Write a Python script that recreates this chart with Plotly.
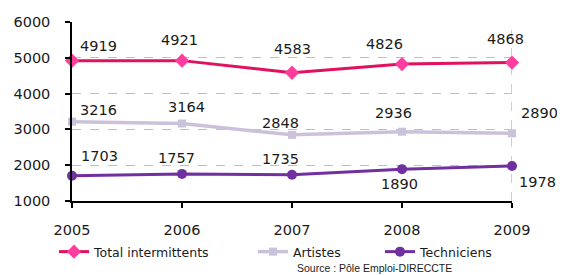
import plotly.graph_objects as go

years = [2005, 2006, 2007, 2008, 2009]
total = [4919, 4921, 4583, 4826, 4868]
artistes = [3216, 3164, 2848, 2936, 2890]
techniciens = [1703, 1757, 1735, 1890, 1978]
series_names = ["Total intermittents", "Artistes", "Techniciens"]
y_ticks = [1000, 2000, 3000, 4000, 5000, 6000]
source_text = "Source : Pôle Emploi-DIRECCTE"

FONT = "DejaVu Sans"
fig = go.Figure()

styles = [
    dict(line=dict(color="#E0115F", width=3),
         marker=dict(symbol="diamond", size=11, color="#FF3D9E")),
    dict(line=dict(color="#CCC1DA", width=3.5),
         marker=dict(symbol="square", size=8, color="#CCC1DA")),
    dict(line=dict(color="#7030A0", width=3),
         marker=dict(symbol="circle", size=10, color="#7030A0")),
]
legend_ids = ["legend", "legend2", "legend3"]
all_values = [total, artistes, techniciens]

for name, vals, st, lg in zip(series_names, all_values, styles, legend_ids):
    fig.add_trace(go.Scatter(x=years, y=vals, mode="lines+markers", name=name,
                             line=st["line"], marker=st["marker"], legend=lg,
                             showlegend=True, cliponaxis=False))

# label offsets (pixels) per series, per point
offsets = [
    [(26, 15), (-3, 21), (0, 24), (-18, 20), (-7, 24)],
    [(26, 12), (4, 17), (-12, 12), (-9, 19), (27, 20)],
    [(27, 20), (-6, 16), (-12, 16), (-3, -15), (25, -16)],
]
for vals, offs in zip(all_values, offsets):
    for x, v, (dx, dy) in zip(years, vals, offs):
        fig.add_annotation(x=x, y=v, text=str(v), showarrow=False,
                           xshift=dx, yshift=dy,
                           font=dict(family=FONT, size=14.5, color="#1a1a1a"))

fig.add_shape(type="line", xref="x", yref="y", x0=2009, x1=2009, y0=1000, y1=6000,
              line=dict(color="#BFBFBF", width=1.5, dash="dash"), layer="below")

fig.add_annotation(xref="paper", yref="paper", x=(295 - 72) / 440, y=-(268 - 201) / 179,
                   xanchor="left", yanchor="middle", showarrow=False, text=source_text,
                   font=dict(family="Liberation Sans", size=10.5, color="#1a1a1a"))

leg_y = -(252 - 201) / 179
leg_common = dict(orientation="h", font=dict(family=FONT, size=12.5, color="#1a1a1a"),
                  bgcolor="rgba(0,0,0,0)", xanchor="left", yanchor="middle",
                  xref="paper", yref="paper", itemwidth=30)
fig.update_layout(
    showlegend=True,
    legend=dict(x=(54 - 72) / 440, y=leg_y, **leg_common),
    legend2=dict(x=(253 - 72) / 440, y=leg_y, **leg_common),
    legend3=dict(x=(380 - 72) / 440, y=leg_y, **leg_common),
)

# page has an 8px body offset; margins compensate so the plot area lands at 72..512 x 22..201
fig.update_layout(
    width=565, height=275,
    margin=dict(l=64, r=61, t=14, b=82, autoexpand=False),
    paper_bgcolor="white", plot_bgcolor="white",
    font=dict(family=FONT, size=14.5, color="#1a1a1a"),
    xaxis=dict(range=[2005, 2009], tickvals=years, ticktext=[str(y) for y in years],
               showgrid=False, showline=True, linecolor="black", linewidth=2,
               ticks="outside", ticklen=5, tickcolor="black", tickwidth=1.5,
               ticklabelstandoff=10, zeroline=False, automargin=False,
               tickfont=dict(family=FONT, size=14.5, color="#1a1a1a")),
    yaxis=dict(range=[1000, 6000], tickvals=y_ticks,
               showgrid=True, gridcolor="#BFBFBF", griddash="dash", gridwidth=1.2,
               showline=True, linecolor="black", linewidth=1.5,
               ticks="outside", ticklen=5, tickcolor="black", tickwidth=1.5,
               ticklabelstandoff=12, zeroline=False, automargin=False,
               tickfont=dict(family=FONT, size=14.5, color="#1a1a1a")),
)

fig.write_html("out.html")
